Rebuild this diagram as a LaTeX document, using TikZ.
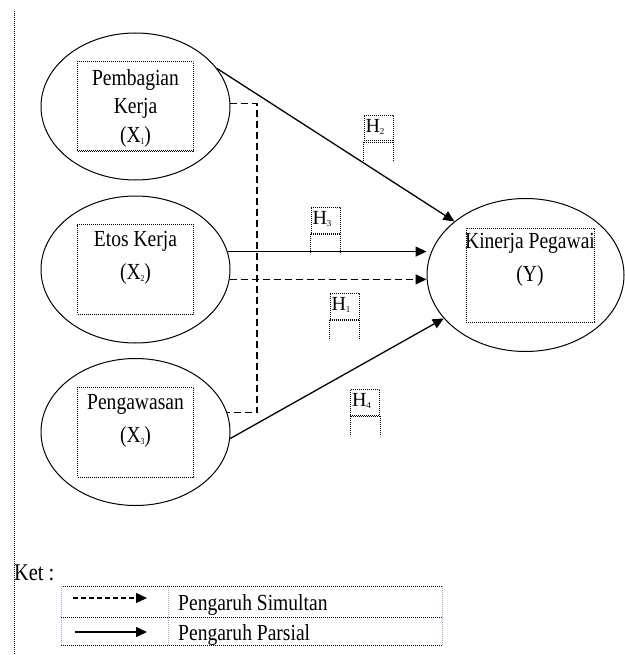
\documentclass[tikz,border=0pt]{standalone}
\usepackage{fontspec}
\setmainfont[FakeStretch=0.85]{Liberation Serif}
\newfontfamily\hfont{Liberation Serif}
\usepackage{tikz}
\usetikzlibrary{shapes.geometric,positioning,arrows.meta}
\definecolor{gridblue}{RGB}{150,175,230}
\newcommand{\lowsub}[1]{\raisebox{-2pt}{\fontsize{9}{9}\selectfont #1}}

\begin{document}
\begin{tikzpicture}[x=1pt,y=-1pt,>={Triangle[length=11pt,width=10pt]},
   var/.style={ellipse,draw,line width=1pt,minimum width=189pt,minimum height=147pt},
   dotline/.style={line width=0.8pt,dash pattern=on 0.8pt off 1.2pt},
   dotbox/.style={draw,dotline,minimum width=116pt,minimum height=90pt},
   vartext/.style={align=center,inner sep=0pt,font=\fontsize{23}{28.5}\selectfont},
   hyp/.style={draw,dotline,inner sep=1.5pt,text width=26pt,align=left,
               text height=16pt,text depth=8pt,font=\hfont\fontsize{20}{22}\selectfont},
   arr/.style={->,line width=1.3pt},
   sim/.style={line width=1.3pt,dash pattern=on 7pt off 4pt}] 
   \useasboundingbox (0,0) rectangle (624,655);
   \draw[dotline] (14.5,11) -- (14.5,655);

   % variables
   \node[var] (x1) at (135.5,106.5) {};
   \node[var] (x2) at (135.5,269.5) {};
   \node[var] (x3) at (135.5,432) {};
   \node[var,minimum width=197pt,minimum height=153pt] (y) at (525.5,275) {};

   \node[dotbox] (b1) at (x1) {};
   \node[dotbox] (b2) at (x2) {};
   \node[dotbox] (b3) at (x3) {};
   \node[dotbox,minimum width=128pt,minimum height=94pt] (by) at (530,275) {};
   \draw[dotline] ([yshift=1.5pt]b1.south west) -- ([yshift=1.5pt]b1.south east);

   \node[vartext,below=8pt of b1.north] (t1) {Pembagian\\Kerja\\(X\lowsub{1})};
   \node[vartext,below=7pt of b2.north] (t2) {Etos Kerja\\[4pt](X\lowsub{2})};
   \node[vartext,below=8pt of b3.north] (t3) {Pengawasan\\[4pt](X\lowsub{3})};
   \node[vartext,below=5pt of by.north] (ty) {Kinerja Pegawai\\[5pt](Y)};

   % hipotesis
   \node[hyp] (h2) at (378.5,128.5) {H\lowsub{2}};
   \node[hyp] (h3) at (325.5,220.5) {H\lowsub{3}};
   \node[hyp] (h1) at (344.5,306.5) {H\lowsub{1}};
   \node[hyp] (h4) at (365,402.5) {H\lowsub{4}};
   \foreach \h in {h1,h2,h3,h4}
      \draw[dotline] ([yshift=1.5pt]\h.south west) -- ([yshift=1.5pt]\h.south east)
         (\h.south west) -- ++(0,20) (\h.south east) -- ++(0,20);

   \coordinate (bus) at (257,0);
   \draw[sim] (x1.2) -- (x1.2 -| bus) |- (x3.12);

   \path[arr] 
   (x1.25) edge (y.143)
   (x2.11) edge (x2.11 -| y.west)
   (x3.-4) edge (y.208);
   \draw[sim,->] (x2.-6) -- (x2.-6 -| y.west);

   % keterangan
   \node[inner sep=0pt,anchor=base west,font=\fontsize{24}{28}\selectfont] (ket) at (14,580) {Ket :};
   \draw[dotline] (61,586) -- (442,586) (61,617) -- (442,617) (61,645) -- (442,645);
   \draw[dotline,gridblue] (61,586) -- (61,645) (168,586) -- (168,645) (442,586) -- (442,645);
   \coordinate (ls) at (73,598);
   \coordinate (le) at (147,598);
   \coordinate (ps) at (75,632);
   \coordinate (pe) at (147,632);
   \draw[->,line width=1.3pt,dash pattern=on 5pt off 3pt] (ls) -- (le);
   \draw[arr] (ps) -- (pe);
   \node[inner sep=0pt,anchor=base west,font=\fontsize{23}{28}\selectfont] (sim) at (178,610) {Pengaruh Simultan};
   \node[inner sep=0pt,anchor=base west,font=\fontsize{23}{28}\selectfont] (par) at (178,640) {Pengaruh Parsial};
\end{tikzpicture}
\end{document}
